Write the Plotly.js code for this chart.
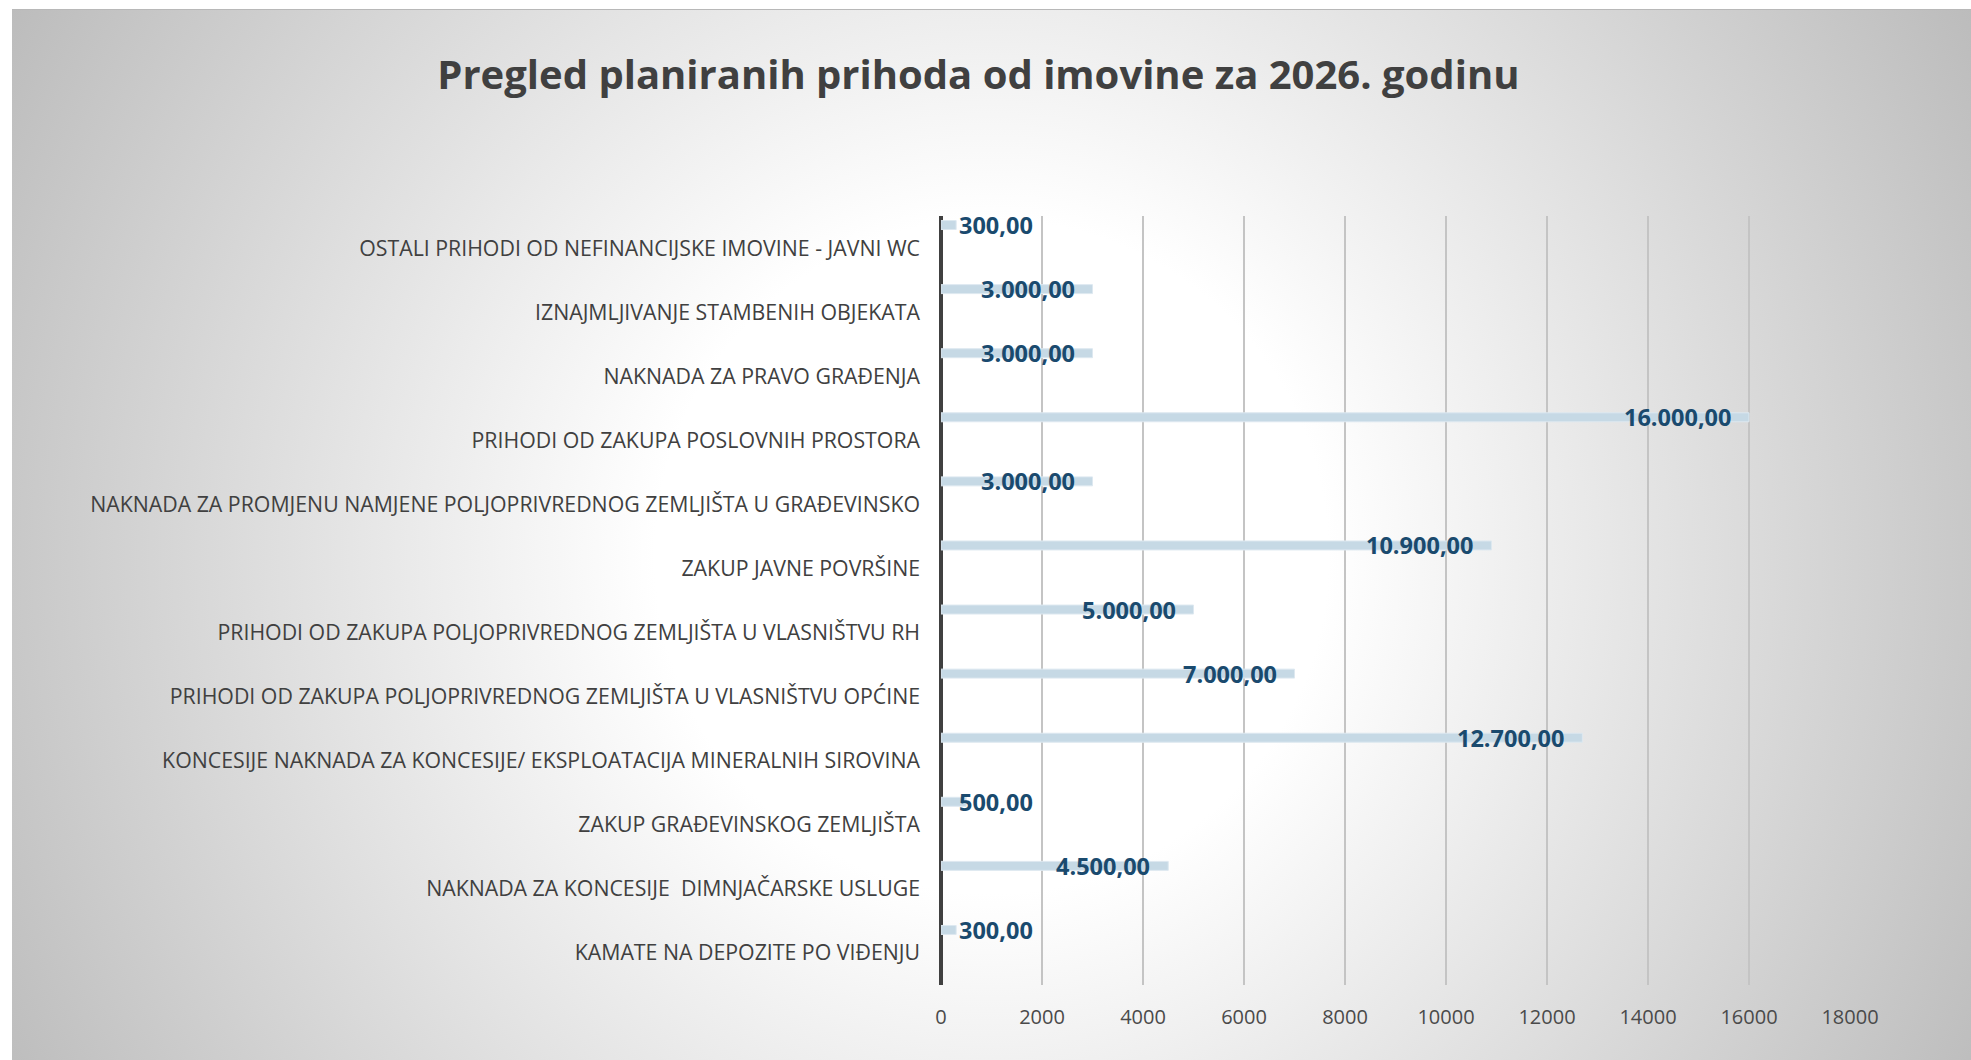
<!DOCTYPE html>
<html>
<head>
<meta charset="utf-8">
<script src="https://cdn.plot.ly/plotly-3.0.1.min.js"></script>
<style>
  html, body { margin: 0; padding: 0; background: #ffffff; width: 1971px; height: 1060px; overflow: hidden; }
  #bg { position: absolute; left: 12px; top: 9px; width: 1959px; height: 1051px;
        background: radial-gradient(circle farthest-corner at 50% 52%, #ffffff 0%, #ffffff 30%, #bcbcbc 100%);
        border-top: 1px solid #b8b8b8; }
  #chart { position: absolute; left: 0; top: 0; width: 1971px; height: 1060px; }
</style>
</head>
<body>
<div id="bg"></div>
<div id="chart"></div>
<script>
// ---- data (top-to-bottom order as shown) ----
const chartTitle = "Pregled planiranih prihoda od imovine za 2026. godinu";
const categories = [
  "OSTALI PRIHODI OD NEFINANCIJSKE IMOVINE - JAVNI WC",
  "IZNAJMLJIVANJE STAMBENIH OBJEKATA",
  "NAKNADA ZA PRAVO GRAĐENJA",
  "PRIHODI OD ZAKUPA POSLOVNIH PROSTORA",
  "NAKNADA ZA PROMJENU NAMJENE POLJOPRIVREDNOG ZEMLJIŠTA U GRAĐEVINSKO",
  "ZAKUP JAVNE POVRŠINE",
  "PRIHODI OD ZAKUPA POLJOPRIVREDNOG ZEMLJIŠTA U VLASNIŠTVU RH",
  "PRIHODI OD ZAKUPA POLJOPRIVREDNOG ZEMLJIŠTA U VLASNIŠTVU OPĆINE",
  "KONCESIJE NAKNADA ZA KONCESIJE/ EKSPLOATACIJA MINERALNIH SIROVINA",
  "ZAKUP GRAĐEVINSKOG ZEMLJIŠTA",
  "NAKNADA ZA KONCESIJE  DIMNJAČARSKE USLUGE",
  "KAMATE NA DEPOZITE PO VIĐENJU"
];
const values = [300, 3000, 3000, 16000, 3000, 10900, 5000, 7000, 12700, 500, 4500, 300];
const xTickValues = [0, 2000, 4000, 6000, 8000, 10000, 12000, 14000, 16000, 18000];

// ---- helpers ----
function fmt(v) {
  const parts = v.toFixed(2).split(".");
  const intPart = parts[0].replace(/\B(?=(\d{3})+(?!\d))/g, ".");
  return intPart + "," + parts[1];
}

const labelFont = { family: "Open Sans, Lato, sans-serif", size: 23.5, color: "#1A4A6E", weight: 700 };
const annotations = values.map((v, i) => {
  const atBase = v < 2000;
  return {
    x: atBase ? 0 : v,
    y: categories[i],
    xref: "x", yref: "y",
    text: fmt(v),
    showarrow: false,
    xanchor: atBase ? "left" : "right",
    yanchor: "middle",
    xshift: atBase ? 16 : -16,
    yshift: 23,
    font: labelFont
  };
});

const trace = {
  type: "bar",
  orientation: "h",
  x: values,
  y: categories,
  width: 0.14,
  offset: -0.429,
  marker: { color: "#C6D9E5", line: { color: "#DDE8F0", width: 1 } },
  hoverinfo: "x+y",
  showlegend: false
};

const layout = {
  width: 1971,
  height: 1060,
  paper_bgcolor: "rgba(0,0,0,0)",
  plot_bgcolor: "rgba(0,0,0,0)",
  margin: { l: 941, r: 121, t: 216, b: 75, pad: 0 },
  title: {
    text: chartTitle,
    font: { family: "Open Sans, Lato, sans-serif", size: 40, color: "#404040", weight: 700 },
    xref: "container", x: 0.4964, xanchor: "center",
    yref: "container", y: 0.929, yanchor: "middle"
  },
  xaxis: {
    range: [0, 18000],
    tickvals: xTickValues,
    ticktext: xTickValues.map(String),
    showgrid: true,
    gridcolor: "#c4c4c4",
    gridwidth: 1.3,
    zeroline: true,
    zerolinecolor: "#404040",
    zerolinewidth: 3.5,
    showline: false,
    ticks: "",
    ticklabelstandoff: 18,
    tickfont: { family: "Open Sans, Lato, sans-serif", size: 20, color: "#4a4a4a" },
    fixedrange: true
  },
  yaxis: {
    type: "category",
    range: [11.5, -0.5],
    showgrid: false,
    zeroline: false,
    showline: false,
    ticks: "",
    ticklabelstandoff: 20,
    tickfont: { family: "Open Sans, Lato, sans-serif", size: 21.3, color: "#404040" },
    fixedrange: true
  },
  annotations: annotations,
  bargap: 0
};

Plotly.newPlot("chart", [trace], layout, { displayModeBar: false, staticPlot: true });
</script>
</body>
</html>
